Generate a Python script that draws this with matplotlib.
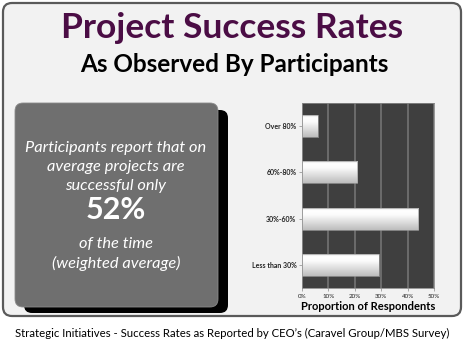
import numpy as np
import matplotlib.pyplot as plt
from matplotlib.patches import FancyBboxPatch

# data
categories = ['Less than 30%', '30%-60%', '60%-80%', 'Over 80%']
shares = [29, 44, 21, 6]
xticks = [0, 10, 20, 30, 40, 50]
xtick_labels = ['0%', '10%', '20%', '30%', '40%', '50%']

W, H = 465, 351
plt.rcParams['font.family'] = ['Lato', 'DejaVu Sans']

fig = plt.figure(figsize=(W / 100, H / 100), dpi=100)
fig.patch.set_facecolor('white')


def px(x, y):
    return x / W, 1 - y / H


def rbox(x0, y0, x1, y1, r, **kw):
    # rounded box given in pixel coords (top-left, bottom-right)
    a, b = px(x0, y1)
    w, h = (x1 - x0) / W, (y1 - y0) / H
    p = FancyBboxPatch((a, b), w, h, boxstyle=f'round,pad=0,rounding_size={r / W}',
                       transform=fig.transFigure, mutation_aspect=W / H, **kw)
    fig.patches.append(p)
    return p


# outer frame
rbox(3, 3, 461, 316, 9, facecolor='#f2f2f2', edgecolor='#5a5a5a', lw=1.6, zorder=0)

fig.text(*px(232, 28), 'Project Success Rates', ha='center', va='center',
         fontsize=25.5, fontweight='bold', color='#4b0d45')
fig.text(*px(234, 65), 'As Observed By Participants', ha='center', va='center',
         fontsize=17.5, fontweight='bold', color='black')

# callout box with shadow
rbox(24, 110, 228, 313, 8, facecolor='black', edgecolor='none', zorder=1)
rbox(15, 103, 218, 307, 8, facecolor='#6f6f6f', edgecolor='#8a8a8a', lw=0.6, zorder=2)

cx = 116
body = dict(ha='center', va='center', color='white', fontsize=11.8, style='italic', zorder=3)
fig.text(*px(cx, 148), 'Participants report that on', **body)
fig.text(*px(cx, 167), 'average projects are', **body)
fig.text(*px(cx, 186), 'successful only', **body)
fig.text(*px(cx, 210), '52%', ha='center', va='center', color='white', fontsize=22,
         fontweight='bold', zorder=3)
fig.text(*px(cx, 244), 'of the time', **body)
fig.text(*px(cx, 263), '(weighted average)', **body)

# bar chart
l, b = px(302, 288)
ax = fig.add_axes([l, b, (434 - 302) / W, (288 - 103) / H], zorder=5)
ax.set_facecolor('#3f3f3f')
y = np.arange(len(categories))
bars = ax.barh(y, shares, height=0.48, color='none', edgecolor='#a0a0a0', lw=0.5, zorder=3)
t = np.linspace(0, 1, 64)
grad = np.interp(t, [0, 0.15, 0.35, 1], [0.85, 1.0, 0.98, 0.74]).reshape(-1, 1)
for bar in bars:
    x0, y0 = bar.get_x(), bar.get_y()
    im = ax.imshow(grad, cmap='gray', vmin=0, vmax=1, aspect='auto', zorder=2,
                   extent=[x0, x0 + bar.get_width(), y0, y0 + bar.get_height()])
    im.set_clip_path(bar)
ax.set_xlim(0, 50)
ax.set_ylim(-0.5, len(categories) - 0.5)
ax.set_xticks(xticks)
ax.set_xticklabels(xtick_labels, fontsize=4.5, color='#333333')
ax.set_yticks(y)
ax.set_yticklabels(categories, fontsize=5, fontweight='bold', color='#222222')
ax.grid(axis='x', color='#6c6c6c', lw=1.4, zorder=1)
ax.set_axisbelow(True)
ax.tick_params(length=2, width=0.5, colors='#888888', labelcolor='#222222', pad=2)
for s in ax.spines.values():
    s.set_color('#888888')
    s.set_linewidth(0.6)
ax.set_xlabel('Proportion of Respondents', fontsize=8, fontweight='bold', labelpad=2)

fig.text(*px(232, 333), 'Strategic Initiatives - Success Rates as Reported by CEO\u2019s (Caravel Group/MBS Survey)',
         ha='center', va='center', fontsize=8.2, color='black')

fig.savefig('out.png', dpi=100)
